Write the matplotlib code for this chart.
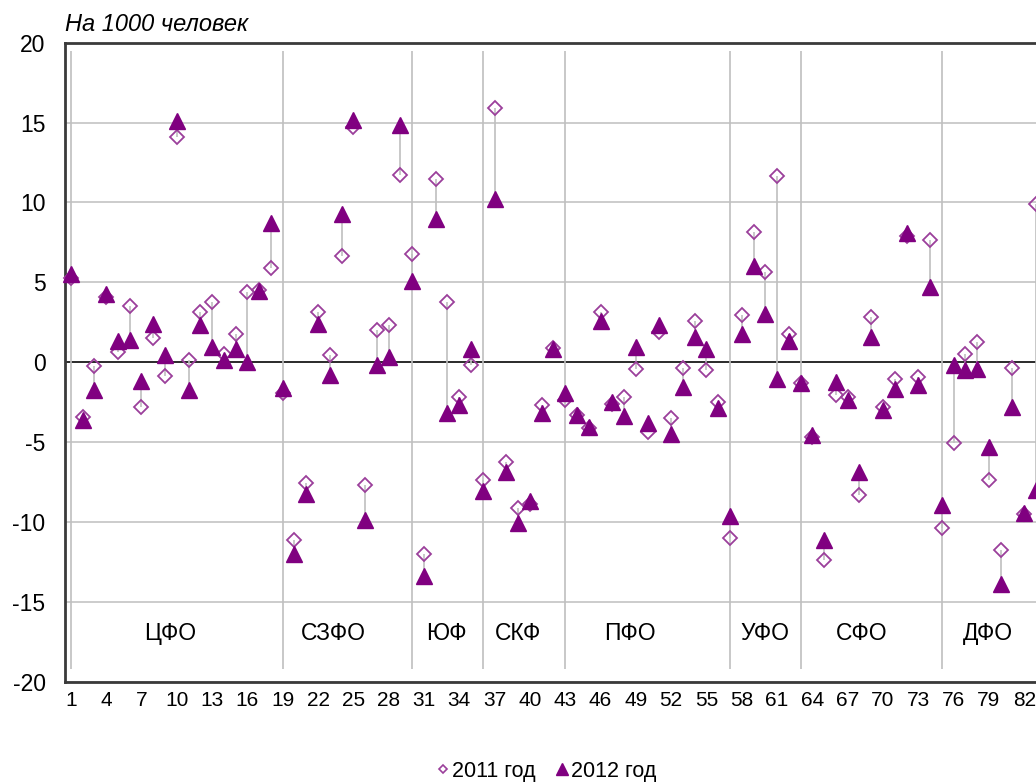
import matplotlib.pyplot as plt
from matplotlib.lines import Line2D

plt.rcParams['font.family'] = ['Liberation Sans', 'DejaVu Sans']
plt.rcParams['axes.unicode_minus'] = False

# regions numbered 1..83, values per 1000 people
regions = list(range(1, 84))

y2011 = [5.3, -3.45, -0.26, 4.1, 0.62, 3.54, -2.79, 1.5, -0.86, 14.08,
         0.11, 3.17, 3.75, 0.53, 1.78, 4.38, 4.5, 5.87, -1.9, -11.11,
         -7.57, 3.17, 0.47, 6.62, 14.72, -7.68, 2.0, 2.3, 11.75, 6.76,
         -12.04, 11.48, 3.75, -2.17, -0.2, -7.37, 15.91, -6.22, -9.13, -8.9,
         -2.65, 0.9, -2.38, -3.3, -4.1, 3.13, -2.6, -2.17, -0.45, -4.39,
         1.88, -3.48, -0.36, 2.55, -0.51, -2.52, -11.0, 2.96, 8.16, 5.62,
         11.65, 1.78, -1.3, -4.7, -12.36, -2.07, -2.2, -8.3, 2.82, -2.8,
         -1.03, 7.9, -0.92, 7.64, -10.38, -5.08, 0.53, 1.26, -7.37, -11.73,
         -0.36, -9.5, 9.88]

y2012 = [5.5, -3.6, -1.76, 4.3, 1.3, 1.4, -1.2, 2.4, 0.45, 15.08,
         -1.76, 2.3, 0.95, 0.11, 0.84, 0.01, 4.48, 8.74, -1.6, -12.04,
         -8.25, 2.4, -0.82, 9.26, 15.18, -9.86, -0.2, 0.32, 14.87, 5.1,
         -13.39, 8.95, -3.21, -2.69, 0.84, -8.09, 10.19, -6.85, -10.1, -8.7,
         -3.21, 0.84, -1.96, -3.32, -4.04, 2.61, -2.52, -3.36, 0.95, -3.83,
         2.3, -4.52, -1.55, 1.57, 0.84, -2.9, -9.65, 1.78, 6.04, 3.0,
         -1.03, 1.33, -1.28, -4.56, -11.11, -1.24, -2.38, -6.85, 1.57, -3.0,
         -1.65, 8.12, -1.45, 4.69, -8.93, -0.2, -0.51, -0.41, -5.29, -13.92,
         -2.79, -9.45, -8.0]

districts = ['ЦФО', 'СЗФО', 'ЮФ', 'СКФ', 'ПФО', 'УФО', 'СФО', 'ДФО']
district_start = [1, 19, 30, 36, 43, 57, 63, 75]
xticks = list(range(1, 83, 3))

# where the district names sit
label_x = [9.4, 23.3, 32.9, 39.0, 48.5, 60.0, 68.2, 78.9]

purple = '#800080'
light_purple = '#9b3f9b'
grey = '#bfbfbf'

fig = plt.figure(figsize=(10.36, 7.82), dpi=100)
# plot area runs past the right edge, like in the source
ax = fig.add_axes([0.0627, 0.1284, 0.943, 0.8169])
ax.set_xlim(0.5, 83.5)
ax.set_ylim(-20, 20)

ax.set_yticks(range(-20, 21, 5))
ax.set_xticks(xticks)
ax.yaxis.grid(True, color='#c4c4c4', lw=1.2, zorder=0)
ax.set_axisbelow(True)
ax.axhline(0, color='black', lw=1.1, zorder=1)

# high-low lines between the two years
lo = [min(a, b) for a, b in zip(y2011, y2012)]
hi = [max(a, b) for a, b in zip(y2011, y2012)]
ax.vlines(regions, lo, hi, color=grey, lw=1.2, zorder=2)
# district separators
ax.vlines(district_start, -19.2, 19.5, color=grey, lw=1.2, zorder=2)

ax.plot(regions, y2011, ls='none', marker='D', ms=7.5, mfc='none',
        mec=light_purple, mew=1.3, zorder=3, clip_on=False)
ax.plot(regions, y2012, ls='none', marker='^', ms=12, color=purple,
        zorder=4, clip_on=False)

for name, x in zip(districts, label_x):
    ax.text(x, -17.0, name, ha='center', va='center', fontsize=16.5)

for side in ['left', 'top', 'bottom']:
    ax.spines[side].set_color('#3a3a3a')
    ax.spines[side].set_linewidth(2)
ax.spines['right'].set_visible(False)

ax.tick_params(axis='both', length=0)
ax.tick_params(axis='y', labelsize=16.5, pad=14)
ax.tick_params(axis='x', labelsize=15, pad=7)

ax.text(0, 1.018, 'На 1000 человек', transform=ax.transAxes,
        style='italic', fontsize=17, va='baseline', ha='left')

handles = [Line2D([], [], ls='none', marker='D', ms=4, mfc='none',
                  mec=light_purple, mew=1.2),
           Line2D([], [], ls='none', marker='^', ms=9, color=purple)]
fig.legend(handles, ['2011 год', '2012 год'], loc='center',
           bbox_to_anchor=(0.528, 0.014), ncol=2, frameon=False,
           fontsize=15.5, handlelength=0.5, handletextpad=0.15,
           columnspacing=1.0)

fig.savefig('out.png', dpi=100)
